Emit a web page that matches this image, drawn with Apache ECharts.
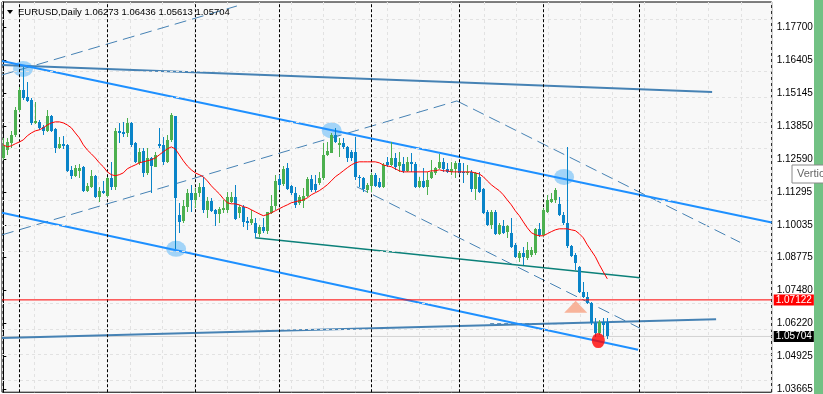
<!DOCTYPE html>
<html>
<head>
<meta charset="utf-8">
<script src="https://cdn.jsdelivr.net/npm/echarts@6/dist/echarts.min.js"></script>
<style>html,body{margin:0;padding:0;background:#fff;}#c{width:823px;height:394px;}</style>
</head>
<body>
<div id="c"></div>
<script>
// ---- data ----
const symbolTitle = 'EURUSD,Daily 1.06273 1.06436 1.05613 1.05704';
const yTicks = [1.17700,1.16405,1.15145,1.13850,1.12590,1.11295,1.10035,1.08775,1.07480,1.06220,1.04925,1.03665];
const monthStarts = [4,26,48,69,92,114,135,159];

const opens = [1.1263,1.1294,1.1322,1.1353,1.1449,1.1527,1.1500,1.1488,1.1399,1.1403,
1.1384,1.1368,1.1426,1.1376,1.1302,1.1318,1.1314,1.1217,1.1194,1.1213,
1.1229,1.1136,1.1151,1.1194,1.1112,1.1136,1.1116,1.1186,1.1151,1.1368,
1.1364,1.1360,1.1399,1.1322,1.1244,1.1291,1.1205,1.1263,1.1229,1.1318,
1.1314,1.1248,1.1333,1.1426,1.1043,1.1019,1.1074,1.1128,1.1100,1.1128,
1.1151,1.1062,1.1097,1.1062,1.1046,1.1062,1.1062,1.1093,1.1112,1.1050,
1.1074,1.1019,1.1012,1.1012,1.0969,1.0996,1.0981,1.1050,1.1077,1.1182,
1.1163,1.1225,1.1155,1.1128,1.1089,1.1097,1.1116,1.1182,1.1163,1.1167,
1.1186,1.1275,1.1283,1.1353,1.1314,1.1322,1.1306,1.1287,1.1287,1.1190,
1.1186,1.1139,1.1155,1.1198,1.1170,1.1151,1.1248,1.1236,1.1263,1.1232,
1.1240,1.1213,1.1248,1.1240,1.1151,1.1174,1.1151,1.1186,1.1205,1.1225,
1.1248,1.1221,1.1209,1.1221,1.1244,1.1209,1.1205,1.1209,1.1143,1.1190,
1.1143,1.1054,1.1004,1.1054,1.0969,1.1000,1.0977,1.0973,1.0926,1.0876,
1.0895,1.0876,1.0887,1.0895,1.0988,1.0965,1.1054,1.1093,1.1100,1.1085,
1.1043,1.1012,1.0922,1.0887,1.0841,1.0744,1.0724,1.0701,1.0624,1.0585,
1.0627,1.06273];

const closes = [1.1310,1.1325,1.1353,1.1449,1.1527,1.1496,1.1484,1.1399,1.1407,1.1380,
1.1368,1.1426,1.1368,1.1302,1.1318,1.1310,1.1213,1.1194,1.1225,1.1225,
1.1136,1.1155,1.1194,1.1112,1.1136,1.1128,1.1186,1.1151,1.1368,1.1360,
1.1356,1.1399,1.1314,1.1248,1.1287,1.1205,1.1263,1.1232,1.1275,1.1310,
1.1248,1.1333,1.1430,1.1108,1.1015,1.1077,1.1128,1.1100,1.1128,1.1151,
1.1062,1.1097,1.1058,1.1046,1.1066,1.1070,1.1112,1.1112,1.1027,1.1074,
1.1015,1.1012,1.1027,1.0973,1.0996,1.0981,1.1054,1.1077,1.1174,1.1159,
1.1221,1.1143,1.1128,1.1081,1.1112,1.1116,1.1182,1.1139,1.1139,1.1186,
1.1275,1.1291,1.1353,1.1325,1.1322,1.1306,1.1263,1.1263,1.1190,1.1186,
1.1143,1.1159,1.1198,1.1155,1.1151,1.1236,1.1236,1.1263,1.1229,1.1248,
1.1213,1.1248,1.1240,1.1151,1.1174,1.1151,1.1178,1.1209,1.1225,1.1248,
1.1221,1.1209,1.1221,1.1244,1.1205,1.1205,1.1209,1.1143,1.1205,1.1132,
1.1050,1.1004,1.1054,1.0969,1.1004,1.0973,1.1000,1.0918,1.0880,1.0895,
1.0880,1.0907,1.0907,1.0988,1.0965,1.1062,1.1100,1.1105,1.1139,1.1043,
1.1012,1.0922,1.0883,1.0856,1.0744,1.0724,1.0701,1.0624,1.0585,1.0627,
1.0616,1.05704];

const lows = [1.1256,1.1275,1.1302,1.1345,1.1442,1.1488,1.1480,1.1391,1.1395,1.1372,
1.1353,1.1364,1.1364,1.1283,1.1298,1.1298,1.1209,1.1182,1.1190,1.1186,
1.1132,1.1132,1.1147,1.1108,1.1093,1.1124,1.1112,1.1139,1.1139,1.1322,
1.1345,1.1345,1.1306,1.1244,1.1236,1.1190,1.1198,1.1128,1.1229,1.1302,
1.1236,1.1244,1.1325,1.0911,1.0973,1.1012,1.1054,1.1054,1.1070,1.1112,
1.1050,1.1031,1.1054,1.1000,1.1012,1.1050,1.1050,1.1089,1.1023,1.1031,
1.0996,1.0984,1.1004,1.0953,1.0957,1.0973,1.0969,1.1046,1.1062,1.1139,
1.1155,1.1139,1.1120,1.1070,1.1081,1.1070,1.1112,1.1132,1.1132,1.1159,
1.1178,1.1271,1.1283,1.1322,1.1267,1.1298,1.1248,1.1252,1.1178,1.1151,
1.1132,1.1128,1.1132,1.1151,1.1147,1.1147,1.1229,1.1232,1.1217,1.1209,
1.1205,1.1209,1.1209,1.1147,1.1147,1.1147,1.1120,1.1182,1.1198,1.1221,
1.1209,1.1205,1.1198,1.1186,1.1201,1.1167,1.1198,1.1132,1.1100,1.1128,
1.1046,1.1000,1.0988,1.0965,1.0965,1.0969,1.0953,1.0914,1.0876,1.0860,
1.0849,1.0868,1.0880,1.0887,1.0957,1.0957,1.1050,1.1089,1.1089,1.1039,
1.1004,1.0914,1.0880,1.0829,1.0740,1.0721,1.0697,1.0616,1.0569,1.0577,
1.0569,1.05613];

const highs = [1.1341,1.1341,1.1368,1.1461,1.1538,1.1616,1.1558,1.1496,1.1480,1.1411,
1.1391,1.1449,1.1430,1.1380,1.1345,1.1349,1.1318,1.1232,1.1236,1.1240,
1.1232,1.1167,1.1217,1.1198,1.1151,1.1174,1.1190,1.1248,1.1380,1.1399,
1.1403,1.1418,1.1403,1.1325,1.1302,1.1302,1.1302,1.1267,1.1287,1.1380,
1.1345,1.1353,1.1438,1.1426,1.1089,1.1100,1.1143,1.1159,1.1147,1.1167,
1.1190,1.1112,1.1108,1.1066,1.1074,1.1100,1.1132,1.1132,1.1159,1.1081,
1.1081,1.1035,1.1062,1.1031,1.1004,1.1031,1.1054,1.1120,1.1198,1.1198,
1.1232,1.1244,1.1159,1.1151,1.1120,1.1147,1.1190,1.1198,1.1198,1.1209,
1.1322,1.1325,1.1360,1.1380,1.1341,1.1341,1.1310,1.1294,1.1345,1.1198,
1.1190,1.1167,1.1205,1.1205,1.1186,1.1244,1.1267,1.1325,1.1283,1.1287,
1.1267,1.1267,1.1283,1.1248,1.1190,1.1225,1.1209,1.1256,1.1229,1.1279,
1.1263,1.1244,1.1248,1.1252,1.1248,1.1244,1.1236,1.1217,1.1209,1.1209,
1.1147,1.1062,1.1062,1.1062,1.1012,1.1023,1.1004,1.1031,1.0934,1.0903,
1.0918,1.0938,1.0918,1.0992,1.1012,1.1070,1.1120,1.1128,1.1147,1.1112,
1.1054,1.1306,1.0926,1.0895,1.0845,1.0783,1.0744,1.0705,1.0643,1.0635,
1.0643,1.06436];

const movingAvg = [1.1314,1.1306,1.1310,1.1318,1.1325,1.1333,1.1349,1.1360,1.1368,1.1372,
1.1380,1.1391,1.1399,1.1403,1.1403,1.1399,1.1391,1.1380,1.1360,1.1341,
1.1314,1.1294,1.1279,1.1263,1.1244,1.1229,1.1209,1.1198,1.1194,1.1198,
1.1205,1.1221,1.1229,1.1236,1.1244,1.1248,1.1252,1.1256,1.1263,1.1275,
1.1287,1.1298,1.1306,1.1298,1.1275,1.1252,1.1232,1.1217,1.1205,1.1198,
1.1190,1.1174,1.1155,1.1139,1.1124,1.1105,1.1089,1.1085,1.1085,1.1081,
1.1074,1.1070,1.1062,1.1054,1.1046,1.1039,1.1043,1.1050,1.1058,1.1066,
1.1074,1.1081,1.1089,1.1093,1.1097,1.1100,1.1108,1.1120,1.1128,1.1136,
1.1147,1.1159,1.1174,1.1190,1.1201,1.1213,1.1225,1.1236,1.1244,1.1248,
1.1248,1.1248,1.1248,1.1248,1.1244,1.1236,1.1232,1.1229,1.1221,1.1213,
1.1209,1.1209,1.1209,1.1209,1.1209,1.1209,1.1209,1.1213,1.1213,1.1217,
1.1213,1.1213,1.1209,1.1209,1.1209,1.1209,1.1209,1.1209,1.1205,1.1201,
1.1190,1.1174,1.1159,1.1147,1.1136,1.1120,1.1100,1.1081,1.1058,1.1039,
1.1015,1.0992,1.0973,1.0965,1.0961,1.0961,1.0969,1.0977,1.0984,1.0988,
1.0988,1.0988,1.0984,1.0981,1.0969,1.0953,1.0926,1.0903,1.0880,1.0849,
1.0821,1.0794];

// trend objects: [barIndex, price]
const chanTop = [[-0.325,1.16393],[192.1,1.10127]];
const resistFlat = [[-0.325,1.16238],[177.2,1.15191]];
const chanBottom = [[-0.325,1.10500],[158.7,1.05187]];
const supportFlat = [[-0.325,1.05641],[178.2,1.06370]];
const upChanLow = [[-0.325,1.09646],[113.4,1.14842]];
const upChanHigh = [[-0.325,1.15850],[58.4,1.18526]];
const downChanHigh = [[113.4,1.14842],[184.2,1.09356]];
const downChanLow = [[88.4,1.11510],[159.2,1.06022]];
const tealLine = [[62.9,1.09530],[159.2,1.07979]];
const shortDash = [[121.7,1.06200],[140.4,1.06200]];
const ellipses = [[4.925,1.16083],[43.2,1.09104],[82.1,1.13698],[140.2,1.11895]];
const buyArrow = [[143.1,1.06855]];
const sellMark = [[148.75,1.05544]];
const alertPrice = 1.07122;
const bidPrice = 1.05704;

// ---- chart ----
const BULL = '#4cb04f', BEAR = '#0a84c8';
const FONT = 'Liberation Sans, Arial, sans-serif';
const xMin = -0.325, xMax = 192.1;
const yMin = 1.03540, yMax = 1.18681;

const candleData = opens.map((o, i) => [i, o, closes[i], lows[i], highs[i]]);
const maData = movingAvg.map((v, i) => [i, v]);

function renderCandle(params, api) {
  const i = api.value(0), o = api.value(1), c = api.value(2), l = api.value(3), h = api.value(4);
  const pO = api.coord([i, o]), pC = api.coord([i, c]), pL = api.coord([i, l]), pH = api.coord([i, h]);
  const x = Math.floor(pO[0]);
  const col = c >= o ? BULL : BEAR;
  const top = Math.round(Math.min(pO[1], pC[1])), bot = Math.round(Math.max(pO[1], pC[1]));
  const wt = Math.round(pH[1]), wb = Math.round(pL[1]);
  return {type: 'group', children: [
    {type: 'rect', shape: {x: x, y: wt, width: 1, height: Math.max(1, wb - wt)}, style: {fill: col}},
    {type: 'rect', shape: {x: x - 1, y: top, width: 3, height: Math.max(1, bot - top)}, style: {fill: col}}
  ]};
}

function seg(pts, color, width, type, z) {
  return {type: 'line', data: pts, xAxisIndex: 0, yAxisIndex: 0, symbol: 'none', silent: true,
    lineStyle: {color: color, width: width, type: type || 'solid'}, z: z || 4, clip: true};
}

function priceLine(price, lineColor, boxColor, z) {
  return {type: 'line', data: [[xMin, price], [xMax, price]], symbol: 'none', silent: true, z: z, clip: false,
    lineStyle: {color: lineColor, width: 1, type: 'solid'},
    endLabel: {show: true, distance: 2, formatter: price.toFixed(5), color: '#fff', backgroundColor: boxColor,
      fontSize: 10, fontFamily: FONT, padding: [1, 2, 0, 2], lineHeight: 10}};
}

const chart = echarts.init(document.getElementById('c'), null, {renderer: 'canvas'});
chart.setOption({
  animation: false,
  backgroundColor: '#ffffff',
  grid: {left: 2, top: 2, width: 769.7, height: 390.5, show: true, borderColor: '#000', borderWidth: 1, backgroundColor: '#f8f8f8'},
  xAxis: [
    {type: 'value', min: xMin, max: xMax, show: false},
    {type: 'value', min: -0.03, max: 23.93, interval: 1, axisLine: {show: false}, axisTick: {show: false}, axisLabel: {show: false},
     splitLine: {show: true, lineStyle: {color: '#e2e2e2', type: [3, 3], width: 1}}}
  ],
  yAxis: {
    type: 'value', position: 'right', min: yMin, max: yMax,
    axisLine: {show: true, lineStyle: {color: '#000', width: 1}},
    axisTick: {show: true, length: 3, customValues: yTicks, lineStyle: {color: '#000'}},
    axisLabel: {customValues: yTicks, formatter: v => v.toFixed(5), color: '#000', fontSize: 10, fontFamily: FONT, margin: 5},
    splitLine: {show: false}
  },
  series: [
    {type: 'line', data: [], silent: true, z: 1,
     markLine: {symbol: ['none', 'none'], silent: true, animation: false, label: {show: false},
       lineStyle: {color: '#e2e2e2', type: [3, 3], width: 1},
       data: yTicks.map(v => ({yAxis: v}))}},
    {type: 'line', data: [], silent: true, z: 2,
     markLine: {symbol: ['none', 'none'], silent: true, animation: false, label: {show: false},
       lineStyle: {color: '#000', type: [3, 2], width: 1},
       data: monthStarts.map(v => ({xAxis: v}))}},
    {type: 'scatter', data: ellipses, symbol: 'circle', symbolSize: [20, 16], silent: true,
     itemStyle: {color: '#8ccbf7'}, z: 3},
    priceLine(bidPrice, '#d2d2d2', '#000', 3),
    seg(upChanHigh, '#4682b4', 1, [12, 6]),
    seg(upChanLow, '#4682b4', 1, [12, 6]),
    seg(downChanHigh, '#4682b4', 1, [12, 6]),
    seg(downChanLow, '#4682b4', 1, [12, 6]),
    seg(shortDash, '#4682b4', 1, [4, 3]),
    seg(tealLine, '#0b8079', 1.5),
    seg(resistFlat, '#4682b4', 2),
    seg(supportFlat, '#4682b4', 2),
    seg(chanTop, '#1e90ff', 2),
    seg(chanBottom, '#1e90ff', 2),
    {type: 'custom', data: candleData, renderItem: renderCandle, clip: true, silent: true, z: 5,
     encode: {x: 0, y: [1, 2, 3, 4]}},
    {type: 'line', data: maData, symbol: 'none', silent: true, z: 6, lineStyle: {color: '#ff0000', width: 1}},
    priceLine(alertPrice, '#ff0000', '#ff0000', 6),
    {type: 'scatter', data: buyArrow, symbol: 'triangle', symbolSize: [23, 12], silent: true, itemStyle: {color: '#f8a283'}, z: 7},
    {type: 'scatter', data: sellMark, symbol: 'circle', symbolSize: [13, 15], silent: true, itemStyle: {color: '#ff0000'}, z: 7}
  ],
  graphic: [
    {type: 'rect', right: 0, top: 0, shape: {width: 9, height: 394}, style: {fill: '#72c184'}, z: 10},
    {type: 'polygon', shape: {points: [[7, 10], [13, 10], [10, 14]]}, style: {fill: '#000'}, z: 10},
    {type: 'text', left: 18, top: 7, style: {text: symbolTitle, font: '9.5px ' + FONT, fill: '#000'}, z: 10},
    {type: 'rect', shape: {x: 792, y: 165, width: 40, height: 18}, style: {fill: '#fff', stroke: '#8a8a8a', lineWidth: 1}, z: 20},
    {type: 'text', x: 797, y: 174, style: {text: 'Vertical Line', font: '11px ' + FONT, fill: '#666', verticalAlign: 'middle'}, z: 21}
  ]
});
</script>
</body>
</html>
